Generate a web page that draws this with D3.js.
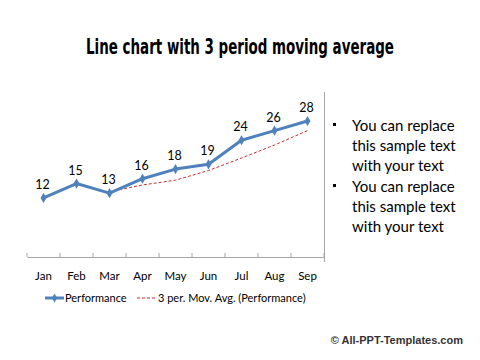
<!DOCTYPE html>
<html><head><meta charset="utf-8">
<script src="https://cdn.jsdelivr.net/npm/d3@7"></script>
<style>
html,body{margin:0;padding:0;background:#fff;}
svg{display:block;}
</style></head>
<body>
<svg id="chart" width="480" height="360"></svg>
<script>
const months = ["Jan","Feb","Mar","Apr","May","Jun","Jul","Aug","Sep"];
const performance = [12,15,13,16,18,19,24,26,28];
const movingAvg = [null,null,13.3,14.7,15.7,17.7,20.3,23,26];
const bullets = [
  ["You can replace","this sample text","with your text"],
  ["You can replace","this sample text","with your text"]
];
const titleText = "Line chart with 3 period moving average";
const legendLabels = ["Performance","3 per. Mov. Avg. (Performance)"];
const footerText = "© All-PPT-Templates.com";

const svg = d3.select("#chart");
const blue = "#4F81BD", red = "#C0312D";
const bodyFont = "Lato, 'Open Sans', sans-serif";

// title: tall condensed look, compressed horizontally to ~308px
const title = svg.append("text").attr("x",0).attr("y",0).attr("text-anchor","middle")
  .attr("font-family","'DejaVu Sans Condensed','DejaVu Sans',sans-serif")
  .attr("font-weight","bold").attr("font-size",21)
  .attr("fill","#000").text(titleText);
const tw = title.node().getComputedTextLength();
const sx = tw > 0 ? 308 / tw : 1;
title.attr("transform", `translate(240,54) scale(${sx},1)`);

const x = d3.scaleBand().domain(months).range([27,324]);
const y = d3.scaleLinear().domain([0,35]).range([255.7,87.3]);
const cx = d => x(d) + x.bandwidth()/2;

// x axis
const axisG = svg.append("g").attr("transform","translate(0,257)")
  .call(d3.axisBottom(x).tickSize(0).tickPadding(0));
axisG.select(".domain").attr("stroke","#a6a6a6").attr("stroke-width",1);
axisG.selectAll(".tick text").remove();
const bounds = months.map(m => x(m)).concat([x.range()[1]]);
axisG.selectAll("line.b").data(bounds).enter().append("line").attr("class","b")
  .attr("x1",d=>d).attr("x2",d=>d).attr("y1",0).attr("y2",-4)
  .attr("stroke","#a6a6a6");
svg.append("g").selectAll("text").data(months).enter().append("text")
  .attr("x",d=>cx(d)).attr("y",280).attr("text-anchor","middle")
  .attr("font-family",bodyFont).attr("font-size",11.5).attr("fill","#000")
  .text(d=>d);

// right vertical separator
svg.append("line").attr("x1",324.5).attr("x2",324.5).attr("y1",y(34)).attr("y2",262)
  .attr("stroke","#a6a6a6");

// moving average
const maData = months.map((m,i)=>({m, v:movingAvg[i]})).filter(d=>d.v!==null);
svg.append("path").datum(maData)
  .attr("d", d3.line().x(d=>cx(d.m)).y(d=>y(d.v)))
  .attr("fill","none").attr("stroke",red).attr("stroke-width",1)
  .attr("stroke-dasharray","3,2");

// performance line
const pData = months.map((m,i)=>({m, v:performance[i]}));
svg.append("path").datum(pData)
  .attr("d", d3.line().x(d=>cx(d.m)).y(d=>y(d.v)))
  .attr("fill","none").attr("stroke",blue).attr("stroke-width",3)
  .attr("stroke-linejoin","round");
const diamond = d3.symbol().type(d3.symbolDiamond).size(30);
svg.append("g").selectAll("path").data(pData).enter().append("path")
  .attr("d",diamond).attr("transform",d=>`translate(${cx(d.m)},${y(d.v)})`)
  .attr("fill",blue);
svg.append("g").selectAll("text").data(pData).enter().append("text")
  .attr("x",d=>cx(d.m)-1).attr("y",d=>y(d.v)-9).attr("text-anchor","middle")
  .attr("font-family",bodyFont).attr("font-size",12.5).attr("fill","#000")
  .text(d=>d.v);

// legend
const lg = svg.append("g").attr("font-family",bodyFont).attr("font-size",11).attr("fill","#000");
lg.append("line").attr("x1",45).attr("x2",64).attr("y1",298).attr("y2",298)
  .attr("stroke",blue).attr("stroke-width",3);
lg.append("path").attr("d",d3.symbol().type(d3.symbolDiamond).size(24)())
  .attr("transform","translate(54.5,298)").attr("fill",blue);
lg.append("text").attr("x",65).attr("y",302).text(legendLabels[0]);
lg.append("line").attr("x1",137).attr("x2",157).attr("y1",298).attr("y2",298)
  .attr("stroke",red).attr("stroke-width",1).attr("stroke-dasharray","3,2");
lg.append("text").attr("x",158).attr("y",302).text(legendLabels[1]);

// bullets
const bg = svg.append("g").attr("font-family",bodyFont).attr("font-size",15).attr("fill","#000");
bullets.forEach((lines,bi)=>{
  const y0 = 131 + bi*61;
  bg.append("rect").attr("x",333).attr("y",y0-8).attr("width",3).attr("height",3).attr("fill","#000");
  lines.forEach((t,li)=>{
    bg.append("text").attr("x",352).attr("y",y0+li*20).text(t);
  });
});

// footer
svg.append("text").attr("x",463).attr("y",344).attr("text-anchor","end")
  .attr("font-family","'Liberation Sans',Arial,sans-serif").attr("font-weight","bold")
  .attr("font-size",11).attr("fill","#333").text(footerText);
</script>
</body></html>
